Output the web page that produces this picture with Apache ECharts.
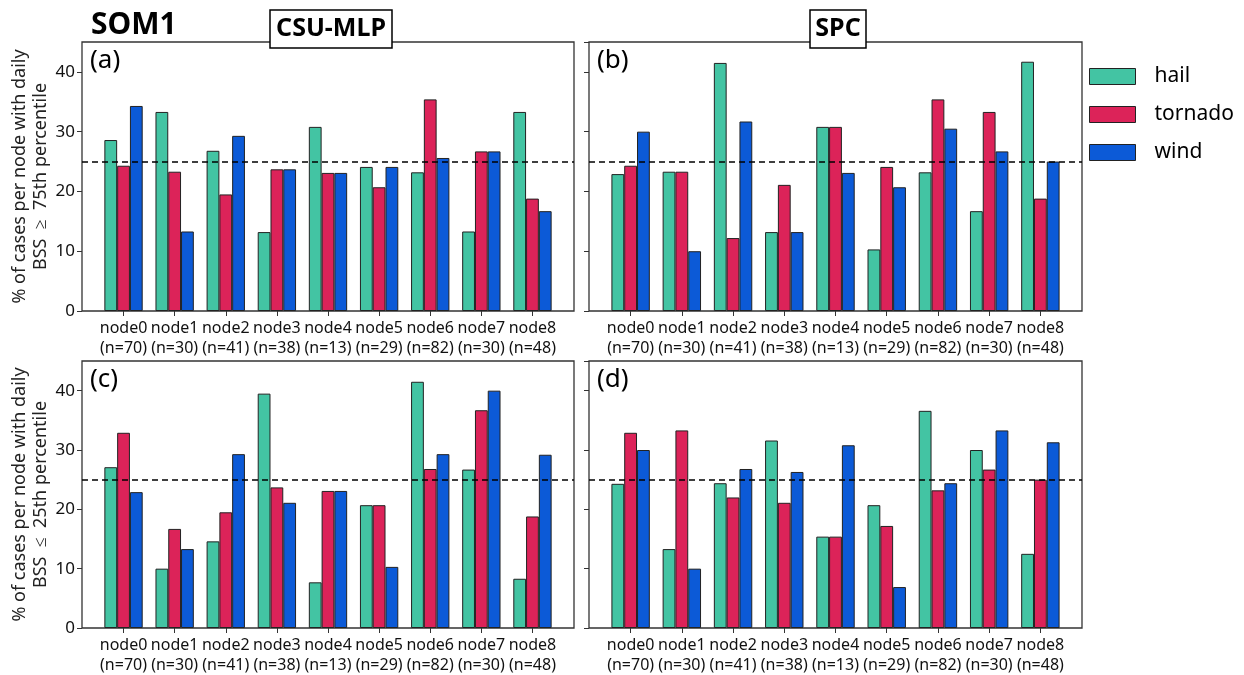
<!DOCTYPE html>
<html>
<head>
<meta charset="utf-8">
<script src="https://cdn.jsdelivr.net/npm/echarts@6/dist/echarts.min.js"></script>
<style>
html,body{margin:0;padding:0;background:#fff;}
#chart{width:1244px;height:675px;}
</style>
</head>
<body>
<div id="chart"></div>
<script>
// ---- data ----
const categories = ['node0','node1','node2','node3','node4','node5','node6','node7','node8'];
const counts = [70, 30, 41, 38, 13, 29, 82, 30, 48];
const seriesNames = ['hail', 'tornado', 'wind'];

// (a) CSU-MLP, BSS >= 75th percentile
const hailA = [28.6, 33.3, 26.8, 13.2, 30.8, 24.1, 23.2, 13.3, 33.3];
const tornadoA = [24.3, 23.3, 19.5, 23.7, 23.1, 20.7, 35.4, 26.7, 18.8];
const windA = [34.3, 13.3, 29.3, 23.7, 23.1, 24.1, 25.6, 26.7, 16.7];
// (b) SPC, BSS >= 75th percentile
const hailB = [22.9, 23.3, 41.5, 13.2, 30.8, 10.3, 23.2, 16.7, 41.7];
const tornadoB = [24.3, 23.3, 12.2, 21.1, 30.8, 24.1, 35.4, 33.3, 18.8];
const windB = [30.0, 10.0, 31.7, 13.2, 23.1, 20.7, 30.5, 26.7, 25.0];
// (c) CSU-MLP, BSS <= 25th percentile
const hailC = [27.1, 10.0, 14.6, 39.5, 7.7, 20.7, 41.5, 26.7, 8.3];
const tornadoC = [32.9, 16.7, 19.5, 23.7, 23.1, 20.7, 26.8, 36.7, 18.8];
const windC = [22.9, 13.3, 29.3, 21.1, 23.1, 10.3, 29.3, 40.0, 29.2];
// (d) SPC, BSS <= 25th percentile
const hailD = [24.3, 13.3, 24.4, 31.6, 15.4, 20.7, 36.6, 30.0, 12.5];
const tornadoD = [32.9, 33.3, 22.0, 21.1, 15.4, 17.2, 23.2, 26.7, 25.0];
const windD = [30.0, 10.0, 26.8, 26.3, 30.8, 6.9, 24.4, 33.3, 31.3];

const referenceLine = 25;
const yLabelTop = '% of cases per node with daily\nBSS  \u2265  75th percentile';
const yLabelBottom = '% of cases per node with daily\nBSS  \u2264  25th percentile';

// ---- styling ----
const FONT = 'Noto Sans';
const colors = ['#43c4a3', '#dc2359', '#0c5ad7'];
const frameColor = '#333';

const panels = [
  {grid: {left: 82, top: 42, width: 492, height: 269}, data: [hailA, tornadoA, windA], yName: yLabelTop, labels: true},
  {grid: {left: 589, top: 42, width: 493, height: 269}, data: [hailB, tornadoB, windB], yName: '', labels: false},
  {grid: {left: 82, top: 361, width: 492, height: 269}, data: [hailC, tornadoC, windC], yName: yLabelBottom, labels: true},
  {grid: {left: 589, top: 361, width: 493, height: 269}, data: [hailD, tornadoD, windD], yName: '', labels: false}
];

const xIdx = categories.map((c, i) => i);
const grids = [], xAxes = [], yAxes = [], series = [];
panels.forEach((p, k) => {
  grids.push(Object.assign({show: true, borderColor: frameColor, borderWidth: 1.3, backgroundColor: 'transparent'}, p.grid));
  xAxes.push({
    type: 'value', gridIndex: k, min: -0.8125, max: 8.8125,
    splitLine: {show: false},
    axisLine: {show: false, onZero: false},
    axisTick: {show: true, customValues: xIdx, length: 5, lineStyle: {color: frameColor, width: 1}},
    axisLabel: {
      customValues: xIdx, margin: 7, color: '#111', fontFamily: FONT, fontSize: 16, lineHeight: 20,
      formatter: v => categories[Math.round(v)] + '\n(n=' + counts[Math.round(v)] + ')'
    }
  });
  yAxes.push({
    type: 'value', gridIndex: k, min: 0, max: 45, interval: 10,
    splitLine: {show: false},
    axisLine: {show: false, onZero: false},
    axisTick: {show: true, length: 5, lineStyle: {color: frameColor, width: 1}},
    axisLabel: {show: p.labels, showMaxLabel: false, margin: 7, color: '#111', fontFamily: FONT, fontSize: 17},
    name: p.yName, nameLocation: 'middle', nameRotate: 90, nameGap: 27,
    nameTextStyle: {color: '#222', fontFamily: FONT, fontSize: 18, lineHeight: 21}
  });
  p.data.forEach((vals, s) => {
    series.push({
      type: 'bar', name: seriesNames[s], xAxisIndex: k, yAxisIndex: k,
      data: vals.map((v, i) => [i, v]),
      barWidth: '25%', barGap: '0%',
      itemStyle: {color: colors[s], borderColor: '#222', borderWidth: 1},
      emphasis: {disabled: true},
      markLine: s === 0 ? {
        silent: true, symbol: 'none', label: {show: false},
        lineStyle: {color: '#000', type: [6, 4], width: 1.5},
        data: [{yAxis: referenceLine}]
      } : undefined
    });
  });
});

const boxStyle = {fontFamily: FONT, fontSize: 25, fontWeight: 'bold', color: '#000'};
const panelLabelStyle = {fontFamily: FONT, fontSize: 26, fontWeight: 'normal', color: '#000'};
const titles = [
  {text: 'SOM1', left: 91, top: 10, padding: 0, textStyle: {fontFamily: FONT, fontSize: 30, fontWeight: 'bold', color: '#000'}},
  {text: 'CSU-MLP', left: 325, textAlign: 'center', top: 10, padding: [6, 6, 7, 6],
   backgroundColor: '#fff', borderColor: '#000', borderWidth: 1.5, textStyle: boxStyle},
  {text: 'SPC', left: 832, textAlign: 'center', top: 10, padding: [6, 6, 7, 6],
   backgroundColor: '#fff', borderColor: '#000', borderWidth: 1.5, textStyle: boxStyle},
  {text: '(a)', left: 90, top: 48, padding: 0, textStyle: panelLabelStyle},
  {text: '(b)', left: 597, top: 48, padding: 0, textStyle: panelLabelStyle},
  {text: '(c)', left: 90, top: 367, padding: 0, textStyle: panelLabelStyle},
  {text: '(d)', left: 597, top: 367, padding: 0, textStyle: panelLabelStyle}
];

const chart = echarts.init(document.getElementById('chart'), null, {renderer: 'canvas'});
chart.setOption({
  animation: false,
  backgroundColor: '#fff',
  title: titles,
  legend: {
    data: seriesNames, orient: 'vertical', left: 1089, top: 66, padding: 0,
    icon: 'rect', itemWidth: 46, itemHeight: 16, itemGap: 17,
    textStyle: {fontFamily: FONT, fontSize: 21, color: '#000', padding: [0, 0, 0, 14]},
    itemStyle: {borderColor: '#222', borderWidth: 1}
  },
  grid: grids,
  xAxis: xAxes,
  yAxis: yAxes,
  series: series
});
</script>
</body>
</html>
